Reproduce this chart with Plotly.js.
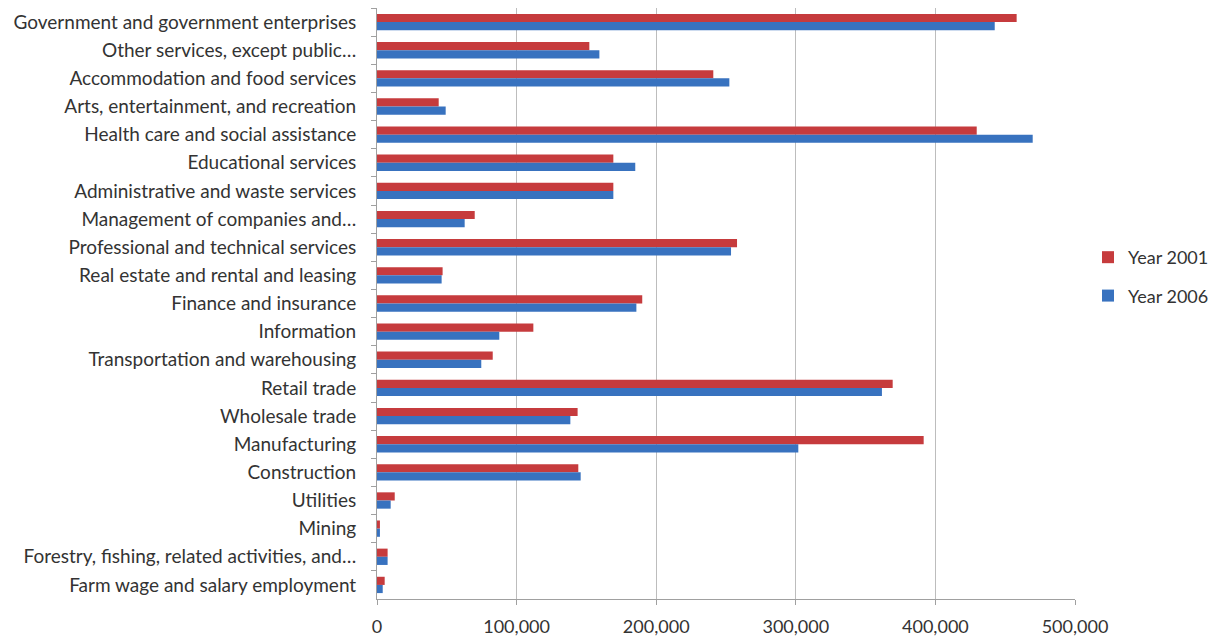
<!DOCTYPE html>
<html>
<head>
<meta charset="utf-8">
<script src="https://cdn.plot.ly/plotly-3.0.1.min.js"></script>
<style>html,body{margin:0;padding:0;background:#fff;}#chart{width:1217px;height:640px;}</style>
</head>
<body>
<div id="chart"></div>
<script>
const categories = [
  "Government and government enterprises",
  "Other services, except public…",
  "Accommodation and food services",
  "Arts, entertainment, and recreation",
  "Health care and social assistance",
  "Educational services",
  "Administrative and waste services",
  "Management of companies and…",
  "Professional and technical services",
  "Real estate and rental and leasing",
  "Finance and insurance",
  "Information",
  "Transportation and warehousing",
  "Retail trade",
  "Wholesale trade",
  "Manufacturing",
  "Construction",
  "Utilities",
  "Mining",
  "Forestry, fishing, related activities, and…",
  "Farm wage and salary employment"
];
const year2001 = [458200, 152100, 240900, 44200, 429600, 169300, 169300, 70000, 257900, 47000, 190000, 112000, 82900, 369400, 143700, 391600, 144200, 12700, 2100, 7600, 5500];
const year2006 = [442500, 159300, 252400, 49200, 469700, 185000, 169300, 62800, 253600, 46300, 185800, 87600, 74700, 361700, 138500, 301800, 145900, 9800, 2100, 7600, 4100];
const xTicks = [0, 100000, 200000, 300000, 400000, 500000];

const fam = "Lato, 'Open Sans', sans-serif";
const textColor = "#333333";

const data = [
  {type: "bar", orientation: "h", name: "Year 2001", y: categories, x: year2001, legendgroup: "a",
   marker: {color: "#c63b3d"}, hoverinfo: "none"},
  {type: "bar", orientation: "h", name: "Year 2006", y: categories, x: year2006, legendgroup: "b",
   marker: {color: "#3872bf"}, hoverinfo: "none"}
];

const layout = {
  width: 1217, height: 640,
  margin: {l: 377, r: 142, t: 8, b: 41, pad: 0, autoexpand: false},
  paper_bgcolor: "#fff", plot_bgcolor: "#fff",
  barmode: "group", bargap: 0.42, bargroupgap: 0,
  font: {family: fam, size: 18, color: textColor},
  showlegend: true,
  legend: {xref: "container", yref: "container", x: 0.894, xanchor: "left", y: 0.568, yanchor: "middle",
           font: {family: fam, size: 18, color: textColor},
           tracegroupgap: 12, itemwidth: 30, bgcolor: "rgba(0,0,0,0)"},
  xaxis: {range: [0, 500000], tickvals: xTicks, tickformat: ",d",
          showgrid: true, gridcolor: "#bdbdbd", gridwidth: 1.3,
          showline: true, linecolor: "#a0a0a0", linewidth: 1,
          ticks: "outside", ticklen: 5, tickcolor: "#a0a0a0", ticklabelstandoff: 6,
          zeroline: false, tickfont: {family: fam, size: 18, color: textColor}, fixedrange: true},
  yaxis: {type: "category", autorange: "reversed", categoryorder: "array", categoryarray: categories,
          showline: true, linecolor: "#a0a0a0", linewidth: 1,
          ticks: "outside", ticklen: 5, tickcolor: "#a0a0a0", tickson: "boundaries",
          showgrid: false, ticklabelstandoff: 16,
          tickfont: {family: fam, size: 19, color: textColor}, fixedrange: true}
};

Plotly.newPlot("chart", data, layout, {staticPlot: true, displayModeBar: false});
</script>
</body>
</html>
